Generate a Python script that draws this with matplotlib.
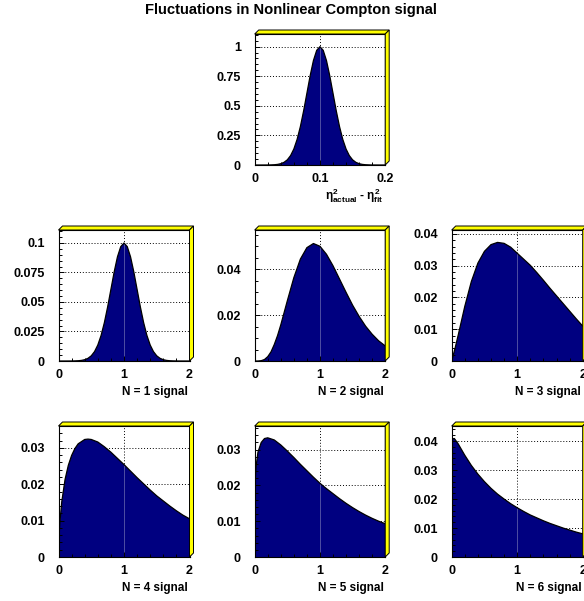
import matplotlib
matplotlib.use("Agg")
import matplotlib.pyplot as plt
import matplotlib.transforms as mtransforms
from matplotlib.patches import Polygon
from matplotlib.ticker import FixedLocator, MultipleLocator

plt.rcParams["font.family"] = ["Liberation Sans", "DejaVu Sans"]
plt.rcParams["font.weight"] = "bold"
plt.rcParams["mathtext.fontset"] = "custom"
plt.rcParams["mathtext.rm"] = "Liberation Sans:bold"
plt.rcParams["mathtext.it"] = "Liberation Sans:bold"
plt.rcParams["mathtext.bf"] = "Liberation Sans:bold"

TITLE = "Fluctuations in Nonlinear Compton signal"

# --- eta^2 residual distribution -------------------------------------------
x_eta = [0.000, 0.005, 0.010, 0.015, 0.020, 0.025, 0.030, 0.035, 0.040, 0.045,
         0.050, 0.055, 0.060, 0.065, 0.070, 0.075, 0.080, 0.085, 0.090, 0.095,
         0.100, 0.105, 0.110, 0.115, 0.120, 0.125, 0.130, 0.135, 0.140, 0.145,
         0.150, 0.155, 0.160, 0.165, 0.170, 0.175, 0.180, 0.185, 0.190, 0.195,
         0.200]
y_eta = [0.0, 0.0, 0.0, 0.0001, 0.0003, 0.0009, 0.0022, 0.0051, 0.0111, 0.0228,
         0.0439, 0.0796, 0.1353, 0.2163, 0.3247, 0.4578, 0.6065, 0.7548, 0.8825, 0.969,
         1.0, 0.969, 0.8825, 0.7548, 0.6065, 0.4578, 0.3247, 0.2163, 0.1353, 0.0796,
         0.0439, 0.0228, 0.0111, 0.0051, 0.0022, 0.0009, 0.0003, 0.0001, 0.0, 0.0,
         0.0]

# --- N = 1 ... 6 signal distributions -------------------------------------
x_n1 = [0.00, 0.05, 0.10, 0.15, 0.20, 0.25, 0.30, 0.35, 0.40, 0.45,
        0.50, 0.55, 0.60, 0.65, 0.70, 0.75, 0.80, 0.85, 0.90, 0.95,
        1.00, 1.05, 1.10, 1.15, 1.20, 1.25, 1.30, 1.35, 1.40, 1.45,
        1.50, 1.55, 1.60, 1.65, 1.70, 1.75, 1.80, 1.85, 1.90, 1.95,
        2.00]
y_n1 = [0.0, 0.0, 0.0, 0.00001, 0.00003, 0.00009, 0.00022, 0.00051, 0.00111, 0.00228,
        0.00439, 0.00796, 0.01353, 0.02163, 0.03247, 0.04578, 0.06065, 0.07548, 0.08825, 0.0969,
        0.1000, 0.0969, 0.08825, 0.07548, 0.06065, 0.04578, 0.03247, 0.02163, 0.01353, 0.00796,
        0.00439, 0.00228, 0.00111, 0.00051, 0.00022, 0.00009, 0.00003, 0.00001, 0.0, 0.0,
        0.0]

x_n2 = [0.0, 0.05, 0.1, 0.15, 0.2, 0.25, 0.3, 0.35, 0.4, 0.5, 0.6, 0.7, 0.8, 0.9, 1.0,
        1.1, 1.2, 1.3, 1.4, 1.5, 1.6, 1.7, 1.8, 1.9, 2.0]
y_n2 = [0.0, 0.0, 0.00014, 0.00066, 0.0019, 0.0040, 0.0072, 0.0111, 0.0158, 0.0263,
        0.0364, 0.0445, 0.0495, 0.0513, 0.0501,
        0.0466, 0.0416, 0.0358, 0.0300, 0.0244, 0.0195, 0.0152, 0.0117, 0.0088, 0.0066]

x_n3 = [0.0, 0.05, 0.1, 0.2, 0.3, 0.4, 0.5, 0.6, 0.7, 0.8, 0.9, 1.0,
        1.1, 1.2, 1.3, 1.4, 1.5, 1.6, 1.7, 1.8, 1.9, 2.0]
y_n3 = [0.0, 0.0039, 0.0082, 0.0172, 0.0250, 0.0308, 0.0345, 0.0366, 0.0373, 0.0370, 0.0358, 0.0339,
        0.0320, 0.0301, 0.0278, 0.0254, 0.0229, 0.0205, 0.0181, 0.0157, 0.0133, 0.0110]

x_n4 = [0.0, 0.01, 0.02, 0.05, 0.1, 0.15, 0.2, 0.25, 0.3, 0.4, 0.45, 0.5, 0.6, 0.7, 0.8, 0.9, 1.0,
        1.1, 1.2, 1.3, 1.4, 1.5, 1.6, 1.7, 1.8, 1.9, 2.0]
y_n4 = [0.0, 0.0062, 0.0093, 0.0152, 0.0213, 0.0252, 0.0279, 0.0298, 0.0311, 0.0323, 0.0324, 0.0323,
        0.0316, 0.0303, 0.0288, 0.0271, 0.0254,
        0.0236, 0.0218, 0.0201, 0.0184, 0.0168, 0.0154, 0.0140, 0.0127, 0.0115, 0.0105]

x_n5 = [0.0, 0.01, 0.02, 0.05, 0.1, 0.15, 0.2, 0.3, 0.4, 0.5, 0.6, 0.7, 0.8, 0.9, 1.0,
        1.1, 1.2, 1.3, 1.4, 1.5, 1.6, 1.7, 1.8, 1.9, 2.0]
y_n5 = [0.0, 0.0221, 0.0252, 0.0293, 0.0320, 0.0331, 0.0333, 0.0327, 0.0313, 0.0296, 0.0278,
        0.0259, 0.0241, 0.0223, 0.0206,
        0.0191, 0.0177, 0.0163, 0.0150, 0.0138, 0.0127, 0.0117, 0.0108, 0.0100, 0.0093]

x_n6 = [0.0, 0.02, 0.04, 0.1, 0.2, 0.3, 0.4, 0.5, 0.6, 0.7, 0.8, 0.9, 1.0,
        1.1, 1.2, 1.3, 1.4, 1.5, 1.6, 1.7, 1.8, 1.9, 2.0]
y_n6 = [0.0400, 0.0408, 0.0409, 0.0390, 0.0351, 0.0316, 0.0286, 0.0260, 0.0237, 0.0217, 0.0200,
        0.0184, 0.0170,
        0.0157, 0.0145, 0.0135, 0.0125, 0.0116, 0.0108, 0.0100, 0.0093, 0.0086, 0.0080]

# --- axis labels and tick labels ------------------------------------------
eta_label = r"$\eta^{2}_{actual}$ - $\eta^{2}_{fit}$"
n_labels = ["N = 1 signal", "N = 2 signal", "N = 3 signal",
            "N = 4 signal", "N = 5 signal", "N = 6 signal"]

eta_xticks = [0.0, 0.1, 0.2]
eta_xticklabels = ["0", "0.1", "0.2"]
n_xticks = [0, 1, 2]
n_xticklabels = ["0", "1", "2"]

eta_yticks = [0, 0.25, 0.5, 0.75, 1.0]
eta_yticklabels = ["0", "0.25", "0.5", "0.75", "1"]
n1_yticks = [0, 0.025, 0.05, 0.075, 0.1]
n1_yticklabels = ["0", "0.025", "0.05", "0.075", "0.1"]
n2_yticks = [0, 0.02, 0.04]
n2_yticklabels = ["0", "0.02", "0.04"]
n3_yticks = [0, 0.01, 0.02, 0.03, 0.04]
n3_yticklabels = ["0", "0.01", "0.02", "0.03", "0.04"]
n4_yticks = [0, 0.01, 0.02, 0.03]
n4_yticklabels = ["0", "0.01", "0.02", "0.03"]

W, H = 584, 601
fig = plt.figure(figsize=(W / 100, H / 100), dpi=100)
fig.patch.set_facecolor("white")
fig.text(291 / W, 1 - 10 / H, TITLE, ha="center", va="center",
         fontsize=10.6, fontweight="bold")

NAVY = "#000080"
GRID_LS = (0, (1, 2))
DEPTH = 4  # pixel depth of the raised frame


def frame_3d(left, top, right, bottom):
    def f(px, py):
        return (px / W, 1 - py / H)
    top_face = [f(left, top), f(left + DEPTH, top - DEPTH),
                f(right + DEPTH, top - DEPTH), f(right, top)]
    side_face = [f(right, top), f(right + DEPTH, top - DEPTH),
                 f(right + DEPTH, bottom - DEPTH), f(right, bottom)]
    for pts in (top_face, side_face):
        fig.add_artist(Polygon(pts, closed=True, facecolor="#ffff00",
                               edgecolor="black", lw=0.7,
                               transform=fig.transFigure, zorder=3))


def panel(box, x, y, xlim, ymax, xticks, xticklabels, xminor,
          yticks, yticklabels, yminor, label, xmark):
    left, top, right, bottom = box
    ax = fig.add_axes([left / W, 1 - bottom / H, (right - left) / W, (bottom - top) / H])
    ax.set_xlim(*xlim)
    ax.set_ylim(0, ymax)

    for t in xticks[1:-1]:
        ax.axvline(t, color="black", ls=GRID_LS, lw=0.7, zorder=0.8)
    for t in yticks[1:]:
        ax.axhline(t, color="black", ls=GRID_LS, lw=0.7, zorder=0.8)

    ax.fill_between(x, y, 0, facecolor=NAVY, edgecolor="none", zorder=1.2)
    ax.plot(x, y, color="black", lw=0.9, zorder=1.3)
    ymark = y[x.index(xmark)]
    ax.vlines(xmark, 0, ymark, colors="#5a5aa8", lw=0.6, zorder=1.25)

    ax.xaxis.set_major_locator(FixedLocator(xticks))
    ax.set_xticklabels(xticklabels)
    ax.xaxis.set_minor_locator(MultipleLocator(xminor))
    ax.yaxis.set_major_locator(FixedLocator(yticks))
    ax.set_yticklabels(yticklabels)
    ax.yaxis.set_minor_locator(MultipleLocator(yminor))
    ax.tick_params(which="both", direction="in", top=False, right=False,
                   width=0.7, colors="black", labelsize=9)
    ax.tick_params(which="major", length=3.6)
    ax.tick_params(which="minor", length=1.9)
    ax.tick_params(axis="x", which="major", pad=6)
    ax.tick_params(axis="y", which="major", pad=10)
    for lab in ax.get_xticklabels() + ax.get_yticklabels():
        lab.set_fontweight("bold")
    for sp in ax.spines.values():
        sp.set_linewidth(0.8)
        sp.set_zorder(2.5)

    tr = mtransforms.offset_copy(ax.transAxes, fig=fig, x=-1.5, y=-31, units="dots")
    ax.text(1.0, 0.0, label, transform=tr, ha="right", va="center",
            fontsize=8.5, fontweight="bold")
    frame_3d(left, top, right, bottom)
    return ax


COLS = [(58.5, 189.5), (254.7, 385.2), (451.7, 582.7)]
ROWS = [(34, 165), (230, 361), (426, 557)]

# top row: eta^2 residual
panel((COLS[1][0], ROWS[0][0], COLS[1][1], ROWS[0][1]), x_eta, y_eta, (0, 0.2), 1.107,
      eta_xticks, eta_xticklabels, 0.02, eta_yticks, eta_yticklabels, 0.05,
      eta_label, 0.1)

series = [
    (x_n1, y_n1, 0.111, n1_yticks, n1_yticklabels, 0.005),
    (x_n2, y_n2, 0.0572, n2_yticks, n2_yticklabels, 0.005),
    (x_n3, y_n3, 0.0412, n3_yticks, n3_yticklabels, 0.002),
    (x_n4, y_n4, 0.0360, n4_yticks, n4_yticklabels, 0.002),
    (x_n5, y_n5, 0.0366, n4_yticks, n4_yticklabels, 0.002),
    (x_n6, y_n6, 0.0452, n3_yticks, n3_yticklabels, 0.002),
]
for i, (xs, ys, ymax, yt, ytl, ymin_step) in enumerate(series):
    r, c = divmod(i, 3)
    lo, hi = COLS[c]
    tp, bt = ROWS[r + 1]
    panel((lo, tp, hi, bt), xs, ys, (0, 2), ymax, n_xticks, n_xticklabels, 0.2,
          yt, ytl, ymin_step, n_labels[i], 1.0)

fig.savefig("out.png", dpi=100)
